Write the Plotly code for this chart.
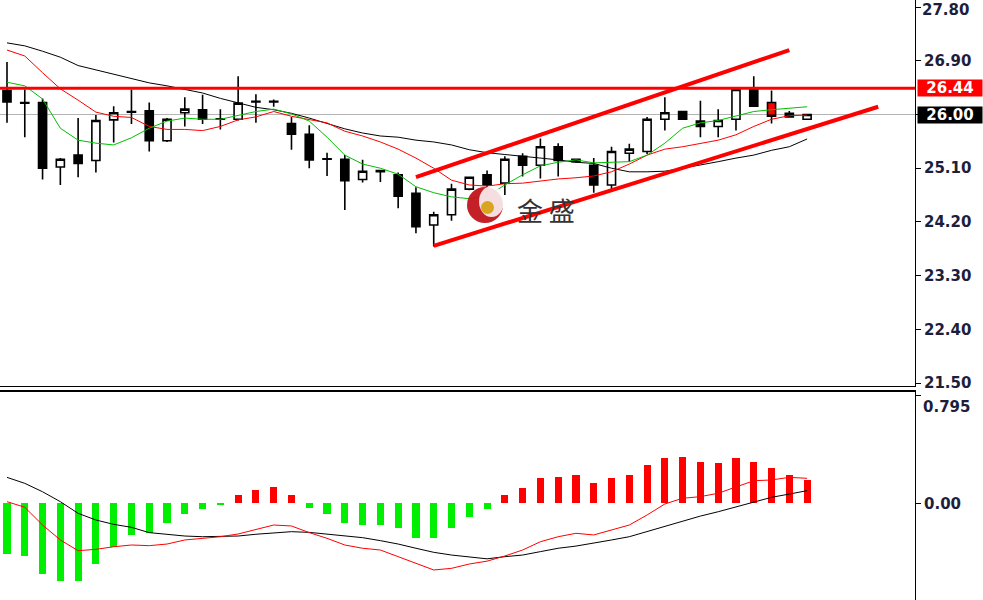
import plotly.graph_objects as go

# ---------------- data ----------------
bar_index = list(range(46))

open_ = [26.40, 26.20, 26.20, 25.12, 25.32, 25.23, 25.91, 26.05, 26.06, 25.56,
         26.03, 26.08, 25.93, 25.92, 26.22, 26.22, 25.85, 25.67, 25.26, 25.25,
         24.91, 25.06, 24.99, 24.68, 24.15, 24.32, 24.75, 24.99, 24.85, 25.30,
         25.15, 25.46, 25.25, 25.15, 24.82, 25.35, 25.38, 25.92, 26.05, 25.89,
         25.80, 25.92, 26.42, 26.20, 26.02, 25.92]
high = [26.88, 26.42, 26.27, 25.27, 25.94, 25.99, 26.14, 26.42, 26.20, 25.94,
        26.29, 26.33, 26.09, 26.64, 26.34, 26.25, 25.96, 25.82, 25.36, 25.32,
        25.24, 25.07, 25.03, 24.78, 24.37, 24.84, 24.96, 25.06, 25.30, 25.35,
        25.60, 25.52, 25.26, 25.27, 25.46, 25.51, 25.96, 26.29, 26.06, 26.23,
        26.09, 26.44, 26.64, 26.40, 26.06, 26.01]
low = [25.86, 25.62, 24.91, 24.82, 24.95, 25.03, 25.53, 25.84, 25.38, 25.54,
       25.80, 25.84, 25.75, 25.90, 25.86, 26.13, 25.41, 25.10, 24.97, 24.40,
       24.86, 24.87, 24.43, 24.01, 23.79, 24.22, 24.73, 24.65, 24.65, 24.96,
       24.93, 24.96, 25.19, 24.69, 24.75, 25.21, 25.34, 25.73, 25.91, 25.62,
       25.62, 25.73, 26.14, 25.85, 25.96, 25.92]
close = [26.21, 26.19, 25.10, 25.25, 25.18, 25.90, 26.03, 26.04, 25.56, 25.92,
         26.09, 25.92, 25.92, 26.19, 26.21, 26.21, 25.67, 25.24, 25.25, 24.89,
         25.05, 25.04, 24.63, 24.12, 24.32, 24.75, 24.95, 24.82, 25.25, 25.15,
         25.46, 25.23, 25.21, 24.82, 25.38, 25.42, 25.92, 26.03, 25.92, 25.80,
         25.90, 26.42, 26.14, 25.97, 25.96, 26.00]
highlighted_bar = 43  # the candle whose body is filled red

ma_fast = [26.54, 26.48, 26.26, 25.77, 25.57, 25.52, 25.49, 25.61, 25.77, 25.89,
           25.94, 25.92, 25.92, 25.98, 26.05, 26.09, 26.01, 25.89, 25.62, 25.32,
           25.17, 25.10, 25.00, 24.79, 24.69, 24.62, 24.59, 24.63, 24.82, 24.99,
           25.14, 25.20, 25.24, 25.19, 25.20, 25.21, 25.32, 25.52, 25.77, 25.86,
           25.90, 25.98, 26.05, 26.08, 26.10, 26.13]
ma_mid = [27.08, 26.98, 26.70, 26.43, 26.24, 26.04, 25.97, 25.95, 25.80, 25.75,
          25.75, 25.73, 25.80, 25.91, 25.96, 26.05, 25.97, 25.91, 25.86, 25.72,
          25.64, 25.54, 25.42, 25.27, 25.10, 24.90, 24.82, 24.80, 24.84, 24.85,
          24.89, 24.92, 24.94, 24.97, 25.04, 25.17, 25.32, 25.42, 25.46, 25.51,
          25.57, 25.66, 25.80, 25.92, 25.98, 25.99]
ma_slow = [27.20, 27.15, 27.06, 26.96, 26.82, 26.75, 26.67, 26.61, 26.53, 26.48,
           26.42, 26.36, 26.27, 26.20, 26.12, 26.08, 26.02, 25.94, 25.85, 25.76,
           25.69, 25.64, 25.62, 25.57, 25.54, 25.49, 25.41, 25.36, 25.33, 25.30,
           25.28, 25.24, 25.20, 25.18, 25.10, 25.04, 25.04, 25.05, 25.10, 25.15,
           25.21, 25.27, 25.32, 25.40, 25.46, 25.59]

macd_hist = [-0.376, -0.388, -0.521, -0.570, -0.570, -0.447, -0.320, -0.233, -0.221, -0.147,
             -0.079, -0.042, -0.008, 0.061, 0.098, 0.123, 0.061, -0.032, -0.079, -0.147,
             -0.160, -0.160, -0.184, -0.258, -0.258, -0.184, -0.103, -0.042, 0.061, 0.110,
             0.184, 0.196, 0.208, 0.147, 0.184, 0.208, 0.282, 0.331, 0.339, 0.306,
             0.295, 0.331, 0.306, 0.258, 0.208, 0.172]
macd_black = [0.191, 0.147, 0.085, 0.012, -0.074, -0.123, -0.155, -0.177, -0.216, -0.228,
              -0.241, -0.246, -0.246, -0.241, -0.228, -0.216, -0.209, -0.214, -0.226, -0.239,
              -0.253, -0.275, -0.300, -0.331, -0.361, -0.381, -0.393, -0.409, -0.393, -0.381,
              -0.356, -0.331, -0.315, -0.295, -0.270, -0.246, -0.209, -0.172, -0.130, -0.094,
              -0.062, -0.025, 0.012, 0.044, 0.068, 0.093]
macd_red = [0.012, -0.029, -0.160, -0.270, -0.349, -0.339, -0.320, -0.307, -0.312, -0.300,
            -0.270, -0.258, -0.246, -0.226, -0.191, -0.160, -0.167, -0.216, -0.258, -0.307,
            -0.331, -0.344, -0.393, -0.442, -0.491, -0.479, -0.447, -0.426, -0.388, -0.344,
            -0.283, -0.246, -0.221, -0.233, -0.197, -0.160, -0.086, -0.005, 0.037, 0.049,
            0.074, 0.122, 0.166, 0.172, 0.191, 0.184]

channel_upper_x = [23, 44]
channel_upper_y = [24.95, 27.08]
channel_lower_x = [24, 49]
channel_lower_y = [23.80, 26.13]

resistance_level = 26.44
last_price = 26.00

price_ticks = [21.50, 22.40, 23.30, 24.20, 25.10, 26.00, 26.90, 27.80]
macd_top_label = 0.795

# ---------------- figure ----------------
W, H = 983, 600
PLOT_W = 915
main_bottom_px = 386
macd_top_px = 392

fig = go.Figure()

norm = [i for i in bar_index if i != highlighted_bar]
fig.add_trace(go.Candlestick(
    x=norm, open=[open_[i] for i in norm], high=[high[i] for i in norm],
    low=[low[i] for i in norm], close=[close[i] for i in norm],
    increasing=dict(fillcolor="white", line=dict(color="black", width=1.6)),
    decreasing=dict(fillcolor="black", line=dict(color="black", width=1.6)),
    whiskerwidth=0, hoverinfo="skip", showlegend=False, xaxis="x", yaxis="y"))
hb = highlighted_bar
fig.add_trace(go.Candlestick(
    x=[hb], open=[open_[hb]], high=[high[hb]], low=[low[hb]], close=[close[hb]],
    increasing=dict(fillcolor="#ff0000", line=dict(color="black", width=1.6)),
    decreasing=dict(fillcolor="#ff0000", line=dict(color="black", width=1.6)),
    whiskerwidth=0, hoverinfo="skip", showlegend=False, xaxis="x", yaxis="y"))

fig.add_trace(go.Scatter(x=bar_index, y=ma_slow, mode="lines",
                         line=dict(color="black", width=1),
                         showlegend=False, hoverinfo="skip", xaxis="x", yaxis="y"))
fig.add_trace(go.Scatter(x=bar_index, y=ma_mid, mode="lines",
                         line=dict(color="#ff0000", width=1),
                         showlegend=False, hoverinfo="skip", xaxis="x", yaxis="y"))
fig.add_trace(go.Scatter(x=bar_index, y=ma_fast, mode="lines",
                         line=dict(color="#00c000", width=1),
                         showlegend=False, hoverinfo="skip", xaxis="x", yaxis="y"))

fig.add_trace(go.Scatter(x=channel_upper_x, y=channel_upper_y, mode="lines",
                         line=dict(color="#ff0000", width=4),
                         showlegend=False, hoverinfo="skip", xaxis="x", yaxis="y"))
fig.add_trace(go.Scatter(x=channel_lower_x, y=channel_lower_y, mode="lines",
                         line=dict(color="#ff0000", width=4),
                         showlegend=False, hoverinfo="skip", xaxis="x", yaxis="y"))

# MACD panel
fig.add_trace(go.Bar(x=bar_index, y=macd_hist, width=0.4,
                     marker=dict(color=["#ff0000" if v > 0 else "#00ee00" for v in macd_hist],
                                 line=dict(width=0)),
                     showlegend=False, hoverinfo="skip", xaxis="x2", yaxis="y2"))
fig.add_trace(go.Scatter(x=bar_index, y=macd_black, mode="lines",
                         line=dict(color="black", width=1),
                         showlegend=False, hoverinfo="skip", xaxis="x2", yaxis="y2"))
fig.add_trace(go.Scatter(x=bar_index, y=macd_red, mode="lines",
                         line=dict(color="#ff0000", width=1),
                         showlegend=False, hoverinfo="skip", xaxis="x2", yaxis="y2"))

x_px_per_bar = 17.78
x_range = [-7 / x_px_per_bar, (PLOT_W - 7) / x_px_per_bar]
price_per_px = 1 / 59.7
y_top = last_price + 114.5 * price_per_px
y_bot = y_top - main_bottom_px * price_per_px
macd_px_per_unit = 135.8
macd_zero_px = 503.3
y2_top = (macd_zero_px - macd_top_px) / macd_px_per_unit
y2_bot = -(H - macd_zero_px) / macd_px_per_unit

label_color = "#1e1e3c"
tick_font = dict(family="DejaVu Sans", size=15, color=label_color, weight="bold")
top_tick = max(price_ticks)

fig.update_layout(
    width=W, height=H, margin=dict(l=0, r=W - PLOT_W, t=0, b=0, autoexpand=False),
    paper_bgcolor="white", plot_bgcolor="white",
    boxgap=0.35, boxgroupgap=0.3, bargap=0,
    xaxis=dict(domain=[0, 1], range=x_range, anchor="y", showticklabels=False,
               showgrid=False, zeroline=False, showline=True, linecolor="black",
               linewidth=1, ticks="", rangeslider=dict(visible=False), automargin=False),
    yaxis=dict(domain=[1 - main_bottom_px / H, 1], range=[y_bot, y_top], side="right",
               anchor="x", tickvals=price_ticks,
               ticktext=["" if v in (last_price, top_tick) else f"{v:.2f}" for v in price_ticks],
               showgrid=False, zeroline=False, showline=True, linecolor="black",
               linewidth=1, ticks="outside", ticklen=5, tickcolor="black",
               tickfont=tick_font, automargin=False, ticklabeloverflow="allow"),
    xaxis2=dict(domain=[0, 1], range=x_range, anchor="y2", matches="x",
                showticklabels=False, showgrid=False, zeroline=False, showline=True,
                mirror=True, linecolor="black", linewidth=2, ticks="", automargin=False),
    yaxis2=dict(domain=[0, 1 - macd_top_px / H], range=[y2_bot, y2_top], side="right",
                anchor="x2", tickvals=[0, macd_top_label], ticktext=["0.00", ""],
                showgrid=False, zeroline=False, showline=True, linecolor="black",
                linewidth=1, ticks="outside", ticklen=5, tickcolor="black",
                tickfont=tick_font, automargin=False, ticklabeloverflow="allow"),
)

# top price label kept inside the page
fig.add_annotation(xref="paper", yref="paper", x=1, y=1, xanchor="left", yanchor="top",
                   xshift=6, yshift=0, text=f"{top_tick:.2f}", showarrow=False,
                   font=tick_font, borderpad=0)

# horizontal price levels
fig.add_shape(type="line", xref="x domain", yref="y", x0=0, x1=1,
              y0=last_price, y1=last_price, line=dict(color="#b4b4b4", width=1), layer="below")
fig.add_shape(type="line", xref="x domain", yref="y", x0=0, x1=1,
              y0=resistance_level, y1=resistance_level, line=dict(color="#ff0000", width=3))

# price tags on the axis
tag_font = dict(family="DejaVu Sans", size=15, color="white", weight="bold")
fig.add_annotation(xref="paper", yref="y", x=1, y=resistance_level, xanchor="left",
                   xshift=2, text=f"{resistance_level:.2f}", showarrow=False,
                   bgcolor="#ff0000", font=tag_font, borderpad=0, width=64, height=16)
fig.add_annotation(xref="paper", yref="y", x=1, y=last_price, xanchor="left",
                   xshift=2, text=f"{last_price:.2f}", showarrow=False,
                   bgcolor="black", font=tag_font, borderpad=0, width=64, height=16)
fig.add_annotation(xref="paper", yref="y2", x=1, y=macd_top_label, xanchor="left",
                   yanchor="top", xshift=6, yshift=-1, text=f"{macd_top_label:.3f}",
                   showarrow=False, font=tick_font)

# watermark logo "金盛"
def px_x(p):
    return p / PLOT_W

def px_y(p):
    return 1 - p / H

cx, cy, r = 485, 205, 18
fig.add_shape(type="circle", xref="paper", yref="paper",
              x0=px_x(cx - r), x1=px_x(cx + r), y0=px_y(cy + r), y1=px_y(cy - r),
              fillcolor="#c0141c", line=dict(width=0), opacity=0.95)
fig.add_shape(type="circle", xref="paper", yref="paper",
              x0=px_x(cx - 6), x1=px_x(cx + 19), y0=px_y(cy + 12), y1=px_y(cy - 19),
              fillcolor="white", line=dict(width=0), opacity=0.85)
fig.add_shape(type="circle", xref="paper", yref="paper",
              x0=px_x(cx - 4), x1=px_x(cx + 9), y0=px_y(cy + 9), y1=px_y(cy - 4),
              fillcolor="#d9a520", line=dict(width=0))
fig.add_annotation(xref="paper", yref="paper", x=px_x(546), y=px_y(209), text="金 盛",
                   showarrow=False, font=dict(family="Noto Sans CJK SC", size=26, color="#333333"))

fig.write_html("out.html", config={"displayModeBar": False},
               post_script="document.body.style.margin='0px';")
